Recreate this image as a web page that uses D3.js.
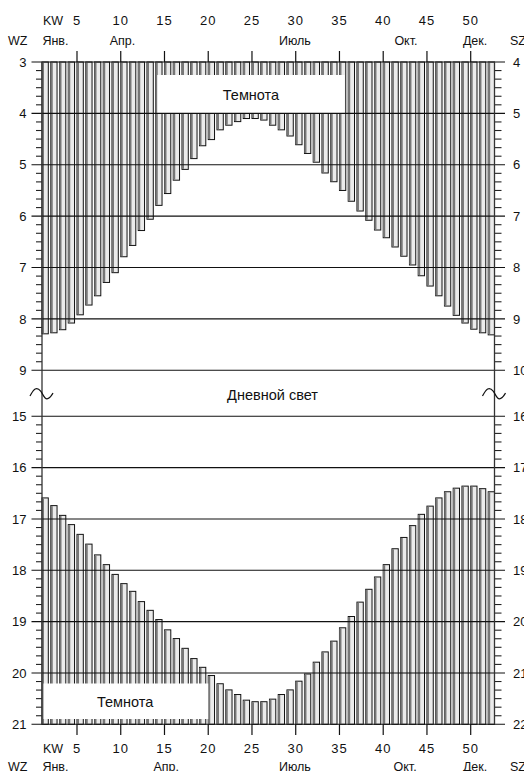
<!DOCTYPE html>
<html>
<head>
<meta charset="utf-8">
<title>Темнота / Дневной свет</title>
<script src="https://cdn.jsdelivr.net/npm/d3@7/dist/d3.min.js"></script>
<style>
    body { margin: 0; background: #fff; }
    text { font-family: "Liberation Sans", Arial, sans-serif; fill: #111; }
</style>
</head>
<body>
<script>
// weeks 1..52 (KW)
var weeks = d3.range(1, 53);

// sunrise, winter time (hours) - top bars go from 3:00 down to this
var sunrise = [8.29, 8.27, 8.21, 8.08, 7.92, 7.73, 7.55, 7.29, 7.10, 6.79,
               6.57, 6.28, 6.06, 5.79, 5.56, 5.30, 5.09, 4.88, 4.63, 4.51,
               4.32, 4.23, 4.16, 4.10, 4.10, 4.13, 4.23, 4.32, 4.44, 4.61,
               4.78, 4.95, 5.16, 5.33, 5.50, 5.71, 5.90, 6.08, 6.27, 6.42,
               6.60, 6.78, 6.95, 7.16, 7.36, 7.55, 7.75, 7.93, 8.08, 8.20,
               8.27, 8.31];

// sunset, winter time (hours) - bottom bars go from this down to 21:00
var sunset = [16.59, 16.74, 16.93, 17.11, 17.30, 17.49, 17.70, 17.89, 18.08, 18.26,
              18.41, 18.61, 18.78, 18.96, 19.16, 19.33, 19.52, 19.72, 19.89, 20.05,
              20.21, 20.33, 20.42, 20.53, 20.56, 20.56, 20.51, 20.42, 20.33, 20.16,
              20.02, 19.79, 19.59, 19.38, 19.12, 18.90, 18.62, 18.37, 18.13, 17.89,
              17.58, 17.36, 17.13, 16.91, 16.75, 16.59, 16.47, 16.40, 16.36, 16.36,
              16.41, 16.47];

var weekTicks = [5, 10, 15, 20, 25, 30, 35, 40, 45, 50];
var topHours = [3, 4, 5, 6, 7, 8, 9];
var bottomHours = [15, 16, 17, 18, 19, 20, 21];

// month labels, position given in weeks
var monthsTop = [["Янв.", 2.54], ["Апр.", 10.2], ["Июль", 29.9], ["Окт.", 42.6], ["Дек.", 50.5]];
var monthsBottom = [["Янв.", 2.54], ["Апр.", 15.2], ["Июль", 29.9], ["Окт.", 42.5], ["Дек.", 50.5]];

var w = 524, h = 771;
var left = 42, right = 494.5;

var svg = d3.select("body").append("svg")
    .attr("width", w)
    .attr("height", h);

var x = d3.scaleBand()
    .domain(weeks)
    .range([left, right])
    .paddingInner(0.28)
    .paddingOuter(0);

var yTop = d3.scaleLinear().domain([3, 9]).range([62, 370.3]);
var yBot = d3.scaleLinear().domain([15, 21]).range([416.3, 724.3]);

// bars
function drawBars(g, vals, y, isTop) {
    var bw = x.bandwidth();
    var gg = g.selectAll("g.bar").data(weeks).enter().append("g").attr("class", "bar");
    gg.append("rect")
        .attr("x", function (d) { return x(d); })
        .attr("y", function (d, i) { return isTop ? y(3) : y(vals[i]); })
        .attr("width", bw)
        .attr("height", function (d, i) { return isTop ? y(vals[i]) - y(3) : y(21) - y(vals[i]); })
        .attr("fill", "#ebebeb")
        .attr("stroke", "#111")
        .attr("stroke-width", 1);
    // darker shading on the left side of each bar
    gg.append("line")
        .attr("x1", function (d) { return x(d) + 0.9; })
        .attr("x2", function (d) { return x(d) + 0.9; })
        .attr("y1", function (d, i) { return isTop ? y(3) : y(vals[i]) + 0.5; })
        .attr("y2", function (d, i) { return isTop ? y(vals[i]) - 0.5 : y(21); })
        .attr("stroke", "#777")
        .attr("stroke-width", 2.2);
}
drawBars(svg.append("g"), sunrise, yTop, true);
drawBars(svg.append("g"), sunset, yBot, false);

// white label boxes "Темнота"
svg.append("rect")
    .attr("x", x(14) + 1.5).attr("y", 75)
    .attr("width", x(36) - x(14) - 5).attr("height", yTop(4) - 75)
    .attr("fill", "#fff");
svg.append("text")
    .attr("x", (x(14) + x(36) - 2) / 2).attr("y", 99.5)
    .attr("text-anchor", "middle").attr("font-size", "14.5px")
    .text("Темнота");

svg.append("rect")
    .attr("x", left + 1.5).attr("y", 683.5)
    .attr("width", x(20) - left - 1.5).attr("height", 35.5)
    .attr("fill", "#fff");
svg.append("text")
    .attr("x", (left + x(20)) / 2).attr("y", 707)
    .attr("text-anchor", "middle").attr("font-size", "14.5px")
    .text("Темнота");

// hour grid lines + ticks + labels
function drawHours(hours, y) {
    svg.selectAll(null).data(hours).enter().append("line")
        .attr("x1", 31.5).attr("x2", 505)
        .attr("y1", function (d) { return y(d); })
        .attr("y2", function (d) { return y(d); })
        .attr("stroke", "#111").attr("stroke-width", 1.1);

    var minor = [];
    for (var i = 0; i < hours.length - 1; i++) {
        for (var m = 1; m < 6; m++) minor.push(hours[i] + m / 6);
    }
    svg.selectAll(null).data(minor).enter().append("line")
        .attr("x1", 36).attr("x2", left)
        .attr("y1", function (d) { return y(d); })
        .attr("y2", function (d) { return y(d); })
        .attr("stroke", "#222").attr("stroke-width", 1.1);
    svg.selectAll(null).data(minor).enter().append("line")
        .attr("x1", right).attr("x2", 501.5)
        .attr("y1", function (d) { return y(d); })
        .attr("y2", function (d) { return y(d); })
        .attr("stroke", "#222").attr("stroke-width", 1.1);

    svg.selectAll(null).data(hours).enter().append("text")
        .attr("x", 26.5)
        .attr("y", function (d) { return y(d) + 4.7; })
        .attr("text-anchor", "end").attr("font-size", "13px")
        .text(function (d) { return d; });
    svg.selectAll(null).data(hours).enter().append("text")
        .attr("x", 513)
        .attr("y", function (d) { return y(d) + 4.7; })
        .attr("font-size", "13px")
        .text(function (d) { return d + 1; });
}
drawHours(topHours, yTop);
drawHours(bottomHours, yBot);

// vertical axis lines
[left, right].forEach(function (xx) {
    svg.append("line")
        .attr("x1", xx).attr("x2", xx)
        .attr("y1", yTop(3)).attr("y2", yBot(21))
        .attr("stroke", "#333").attr("stroke-width", 1.3);
});

// break marks (~)
var tilde = d3.line().curve(d3.curveBasis);
[left, right].forEach(function (xx) {
    var cy = 394;
    svg.append("path")
        .attr("d", tilde([[xx - 12, cy + 2], [xx - 7, cy - 7], [xx - 1, cy - 4], [xx + 3, cy + 6], [xx + 8, cy + 4], [xx + 11, cy - 1]]))
        .attr("fill", "none").attr("stroke", "#111").attr("stroke-width", 1.2);
});

svg.append("text")
    .attr("x", 272.5).attr("y", 399.5)
    .attr("text-anchor", "middle").attr("font-size", "14.5px")
    .text("Дневной свет");

// week ticks top and bottom
svg.selectAll(null).data(weekTicks).enter().append("line")
    .attr("x1", function (d) { return x(d); }).attr("x2", function (d) { return x(d); })
    .attr("y1", 51).attr("y2", yTop(3))
    .attr("stroke", "#111").attr("stroke-width", 1.2);
svg.selectAll(null).data(weekTicks).enter().append("line")
    .attr("x1", function (d) { return x(d); }).attr("x2", function (d) { return x(d); })
    .attr("y1", yBot(21)).attr("y2", 735)
    .attr("stroke", "#111").attr("stroke-width", 1.2);

function weekRow(yy) {
    svg.append("text").attr("x", 43).attr("y", yy).attr("font-size", "12.5px").text("KW");
    svg.selectAll(null).data(weekTicks).enter().append("text")
        .attr("x", function (d) { return x(d); })
        .attr("y", yy)
        .attr("text-anchor", "middle").attr("font-size", "13px")
        .attr("letter-spacing", "1px")
        .text(function (d) { return d; });
}
function monthRow(yy, months) {
    svg.append("text").attr("x", 8).attr("y", yy).attr("font-size", "12.5px").text("WZ");
    svg.append("text").attr("x", 510).attr("y", yy).attr("font-size", "12.5px").text("SZ");
    svg.selectAll(null).data(months).enter().append("text")
        .attr("x", function (d) { return x(1) + (d[1] - 1) * x.step(); })
        .attr("y", yy)
        .attr("text-anchor", "middle").attr("font-size", "12.5px")
        .text(function (d) { return d[0]; });
}
weekRow(25);
monthRow(45, monthsTop);
weekRow(753);
monthRow(771, monthsBottom);
</script>
</body>
</html>
